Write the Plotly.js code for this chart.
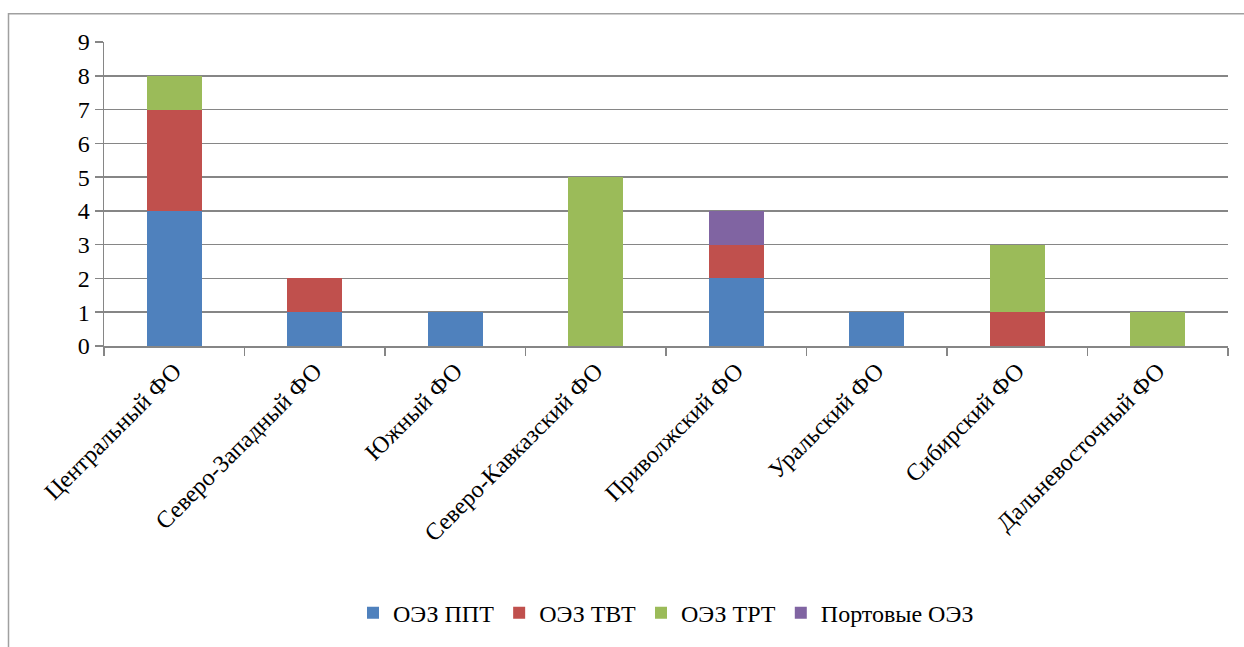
<!DOCTYPE html>
<html>
<head>
<meta charset="utf-8">
<script src="https://cdn.plot.ly/plotly-3.0.1.min.js"></script>
<style>
html,body{margin:0;padding:0;background:#fff;}
#chart{width:1244px;height:647px;}
#chart svg text{font-family:"Liberation Serif","Times New Roman","DejaVu Serif",serif !important;}
</style>
</head>
<body>
<div id="chart"></div>
<script>
var categories = ["Центральный ФО","Северо-Западный ФО","Южный ФО","Северо-Кавказский ФО","Приволжский ФО","Уральский ФО","Сибирский ФО","Дальневосточный ФО"];
var seriesNames = ["ОЭЗ ППТ","ОЭЗ ТВТ","ОЭЗ ТРТ","Портовые ОЭЗ"];
var pptValues = [4,1,1,0,2,1,0,0];
var tvtValues = [3,1,0,0,1,0,1,0];
var trtValues = [1,0,0,5,0,0,2,1];
var portValues = [0,0,0,0,1,0,0,0];
var yTicks = [0,1,2,3,4,5,6,7,8,9];

var colors = ["#4F81BD","#C0504D","#9BBB59","#8064A2"];
var allValues = [pptValues,tvtValues,trtValues,portValues];
var font = "Liberation Serif";

var traces = allValues.map(function(v,i){
  return {type:"bar", x:categories, y:v, name:seriesNames[i],
    marker:{color:colors[i], line:{width:0}}, hoverinfo:"x+y+name"};
});

var L=104, R=16, T=42, B=299, W=1244, H=647;
var pw = W-L-R, ph = H-T-B;
var layout = {
  width:W, height:H,
  margin:{l:L,r:R,t:T,b:B,pad:0},
  barmode:"stack",
  bargap:0.61,
  paper_bgcolor:"#fff", plot_bgcolor:"#fff",
  font:{family:font, size:24, color:"#000"},
  showlegend:true,
  legend:{orientation:"h", x:0.5, xanchor:"center", y:(H-B-617)/ph, yanchor:"middle",
    font:{family:font,size:24,color:"#000"}, traceorder:"normal"},
  xaxis:{type:"category", tickangle:-45, showgrid:false, zeroline:false,
    showline:true, linecolor:"#868686", linewidth:1.5,
    ticks:"outside", tickson:"boundaries", ticklen:8, tickcolor:"#868686", tickwidth:1.5,
    tickfont:{family:font,size:24,color:"#000"}, fixedrange:true},
  yaxis:{range:[0,9], tickvals:yTicks, showgrid:true, gridcolor:"#868686", gridwidth:1.5,
    zeroline:false, showline:true, linecolor:"#868686", linewidth:1.5,
    ticks:"outside", ticklen:8, tickcolor:"#868686", tickwidth:1.5,
    tickfont:{family:font,size:24,color:"#000"}, fixedrange:true},
  shapes:[{type:"rect", xref:"paper", yref:"paper",
    x0:(8.5-L)/pw, x1:(1260-L)/pw, y0:(H-B-660)/ph, y1:(H-B-13.5)/ph,
    line:{color:"#A0A0A0", width:1.5}, fillcolor:"rgba(0,0,0,0)", layer:"below"}]
};

Plotly.newPlot("chart", traces, layout, {displayModeBar:false, staticPlot:true});
</script>
</body>
</html>
